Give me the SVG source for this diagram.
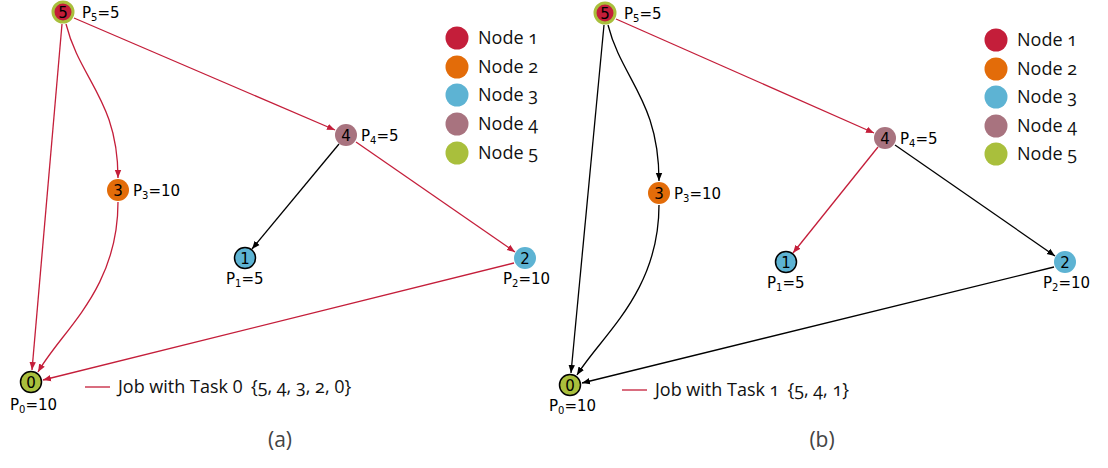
<svg xmlns="http://www.w3.org/2000/svg" width="1108" height="468" viewBox="0 0 1108 468">
  <style>
    .edge { fill: none; stroke-width: 1.3; }
    .red { stroke: #C41E3A; }
    .blk { stroke: #000000; }
    .num { font-family: "DejaVu Sans", sans-serif; font-size: 15px; fill: #000; text-anchor: middle; }
    .plab { font-family: "DejaVu Sans", sans-serif; font-size: 15px; fill: #000; }
    .sub { font-size: 10px; }
    .leg { font-family: "Open Sans", "Noto Sans", sans-serif; font-size: 18px; fill: #111; font-variant-numeric: oldstyle-nums; }
    .lin { font-variant-numeric: lining-nums; }
    .cap { font-family: "Open Sans", "Noto Sans", sans-serif; font-size: 21px; fill: #444; text-anchor: middle; }
    .c1 { fill: #C41E3A; }
    .c2 { fill: #E36C09; }
    .c3 { fill: #5DB3D3; }
    .c4 { fill: #A8737F; }
    .c5 { fill: #A9BF3C; }
  </style>
  <defs>
    <marker id="ar" viewBox="0 0 10 10" refX="10" refY="5" markerWidth="8" markerHeight="8" markerUnits="userSpaceOnUse" orient="auto">
      <path d="M0,1 L10,5 L0,9 Z" fill="#C41E3A"/>
    </marker>
    <marker id="ak" viewBox="0 0 10 10" refX="10" refY="5" markerWidth="8" markerHeight="8" markerUnits="userSpaceOnUse" orient="auto">
      <path d="M0,1 L10,5 L0,9 Z" fill="#000"/>
    </marker>
  </defs>

  <!-- panel (a) connectors -->
  <g id="edges-a">
    <path class="edge red" d="M62,24 L32,370" marker-end="url(#ar)"/>
    <path class="edge red" d="M66,24 C80,80 118,100 118,178" marker-end="url(#ar)"/>
    <path class="edge red" d="M74,18 L335,130" marker-end="url(#ar)"/>
    <path class="edge red" d="M118,202 C118,290 62,330 38,372" marker-end="url(#ar)"/>
    <path class="edge red" d="M356,142 L515,252" marker-end="url(#ar)"/>
    <path class="edge red" d="M514,263 L43,380" marker-end="url(#ar)"/>
    <path class="edge blk" d="M339,144 L252,249" marker-end="url(#ak)"/>
  </g>

  <!-- panel (a) nodes -->
  <g id="a-n5"><circle cx="63" cy="12" r="10" class="c1" stroke="#A9BF3C" stroke-width="3"/><text class="num" x="63" y="17.5">5</text><text class="plab" x="82" y="17.5">P<tspan class="sub" dy="3">5</tspan><tspan dy="-3">=5</tspan></text></g>
  <g id="a-n3"><circle cx="118" cy="190" r="11" class="c2"/><text class="num" x="118" y="195.5">3</text><text class="plab" x="133" y="195.5">P<tspan class="sub" dy="3">3</tspan><tspan dy="-3">=10</tspan></text></g>
  <g id="a-n4"><circle cx="346" cy="135" r="11" class="c4"/><text class="num" x="346" y="140.5">4</text><text class="plab" x="361" y="140.5">P<tspan class="sub" dy="3">4</tspan><tspan dy="-3">=5</tspan></text></g>
  <g id="a-n1"><circle cx="245" cy="258" r="10.5" class="c3" stroke="#000" stroke-width="1.5"/><text class="num" x="245" y="263.5">1</text><text class="plab" x="226" y="284">P<tspan class="sub" dy="3">1</tspan><tspan dy="-3">=5</tspan></text></g>
  <g id="a-n2"><circle cx="525" cy="258" r="11" class="c3"/><text class="num" x="525" y="263.5">2</text><text class="plab" x="503" y="284">P<tspan class="sub" dy="3">2</tspan><tspan dy="-3">=10</tspan></text></g>
  <g id="a-n0"><circle cx="31" cy="382" r="10.5" class="c5" stroke="#000" stroke-width="1.5"/><text class="num" x="31" y="387.5">0</text><text class="plab" x="10" y="410">P<tspan class="sub" dy="3">0</tspan><tspan dy="-3">=10</tspan></text></g>

  <!-- panel (a) legend -->
  <g id="a-legend">
    <circle cx="457" cy="38" r="11.5" class="c1"/><text class="leg" x="478" y="44">Node 1</text>
    <circle cx="457" cy="67" r="11.5" class="c2"/><text class="leg" x="478" y="73">Node 2</text>
    <circle cx="457" cy="95" r="11.5" class="c3"/><text class="leg" x="478" y="101">Node 3</text>
    <circle cx="457" cy="124" r="11.5" class="c4"/><text class="leg" x="478" y="130">Node 4</text>
    <circle cx="457" cy="153" r="11.5" class="c5"/><text class="leg" x="478" y="159">Node 5</text>
    <line x1="85" y1="387" x2="110" y2="387" stroke="#C41E3A" stroke-width="1.3"/>
    <text class="leg" x="118" y="393">Job with Task <tspan class="lin">0</tspan><tspan dx="8">{5, 4, 3, 2, </tspan><tspan class="lin">0</tspan>}</text>
  </g>
  <text class="cap" x="280" y="447">(a)</text>

  <!-- panel (b) connectors -->
  <g id="edges-b">
    <path class="edge blk" d="M604,25 L571,373" marker-end="url(#ak)"/>
    <path class="edge blk" d="M608,25 C622,80 659,100 659,181" marker-end="url(#ak)"/>
    <path class="edge red" d="M616,19 L874,133" marker-end="url(#ar)"/>
    <path class="edge blk" d="M659,205 C659,292 602,335 577,375" marker-end="url(#ak)"/>
    <path class="edge blk" d="M895,145 L1055,256" marker-end="url(#ak)"/>
    <path class="edge blk" d="M1054,267 L582,383" marker-end="url(#ak)"/>
    <path class="edge red" d="M878,147 L793,253" marker-end="url(#ar)"/>
  </g>

  <!-- panel (b) nodes -->
  <g id="b-n5"><circle cx="605" cy="13" r="10" class="c1" stroke="#A9BF3C" stroke-width="3"/><text class="num" x="605" y="18.5">5</text><text class="plab" x="624" y="18.5">P<tspan class="sub" dy="3">5</tspan><tspan dy="-3">=5</tspan></text></g>
  <g id="b-n3"><circle cx="659" cy="193" r="11" class="c2"/><text class="num" x="659" y="198.5">3</text><text class="plab" x="674" y="198.5">P<tspan class="sub" dy="3">3</tspan><tspan dy="-3">=10</tspan></text></g>
  <g id="b-n4"><circle cx="885" cy="138" r="11" class="c4"/><text class="num" x="885" y="143.5">4</text><text class="plab" x="900" y="143.5">P<tspan class="sub" dy="3">4</tspan><tspan dy="-3">=5</tspan></text></g>
  <g id="b-n1"><circle cx="786" cy="262" r="10.5" class="c3" stroke="#000" stroke-width="1.5"/><text class="num" x="786" y="267.5">1</text><text class="plab" x="767" y="288">P<tspan class="sub" dy="3">1</tspan><tspan dy="-3">=5</tspan></text></g>
  <g id="b-n2"><circle cx="1065" cy="262" r="11" class="c3"/><text class="num" x="1065" y="267.5">2</text><text class="plab" x="1043" y="288">P<tspan class="sub" dy="3">2</tspan><tspan dy="-3">=10</tspan></text></g>
  <g id="b-n0"><circle cx="570" cy="385" r="10.5" class="c5" stroke="#000" stroke-width="1.5"/><text class="num" x="570" y="390.5">0</text><text class="plab" x="549" y="411">P<tspan class="sub" dy="3">0</tspan><tspan dy="-3">=10</tspan></text></g>

  <!-- panel (b) legend -->
  <g id="b-legend">
    <circle cx="996" cy="40" r="11.5" class="c1"/><text class="leg" x="1017" y="46">Node 1</text>
    <circle cx="996" cy="69" r="11.5" class="c2"/><text class="leg" x="1017" y="75">Node 2</text>
    <circle cx="996" cy="97" r="11.5" class="c3"/><text class="leg" x="1017" y="103">Node 3</text>
    <circle cx="996" cy="126" r="11.5" class="c4"/><text class="leg" x="1017" y="132">Node 4</text>
    <circle cx="996" cy="154" r="11.5" class="c5"/><text class="leg" x="1017" y="160">Node 5</text>
    <line x1="622" y1="390" x2="647" y2="390" stroke="#C41E3A" stroke-width="1.3"/>
    <text class="leg" x="655" y="396">Job with Task 1<tspan dx="8">{5, 4, 1}</tspan></text>
  </g>
  <text class="cap" x="822" y="447">(b)</text>
</svg>
